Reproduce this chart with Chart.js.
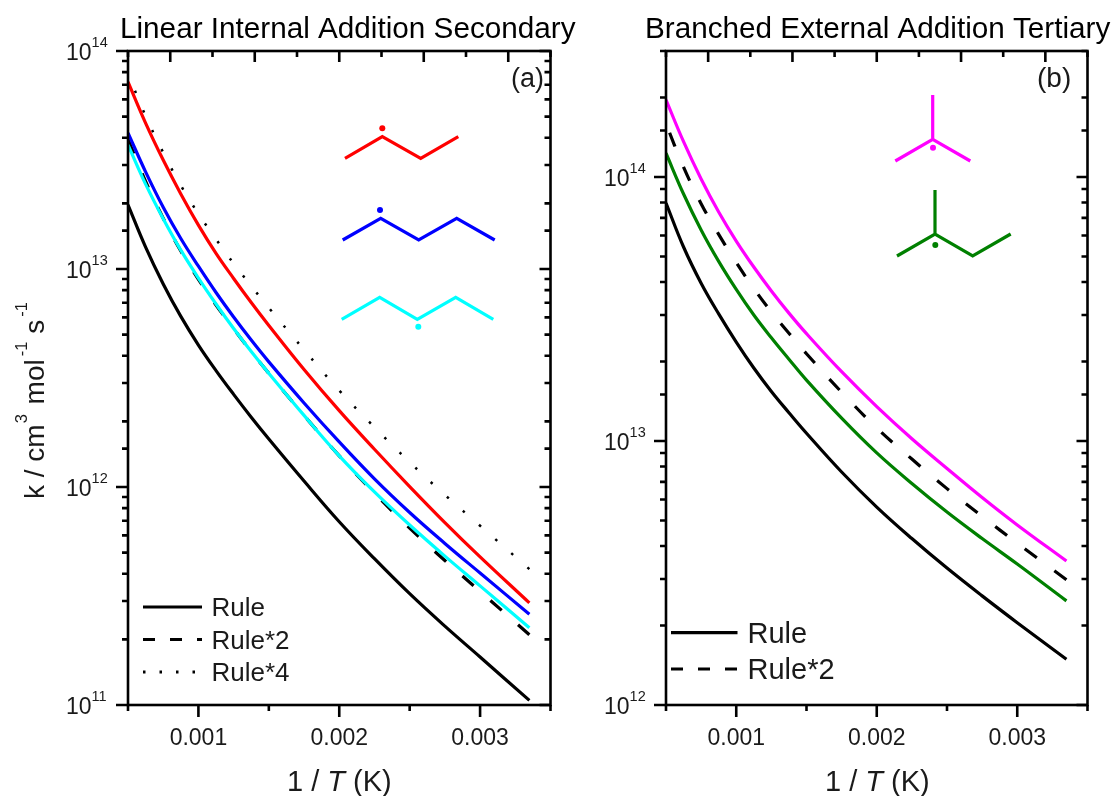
<!DOCTYPE html>
<html>
<head>
<meta charset="utf-8">
<title>Addition rate rules</title>
<script src="https://cdn.jsdelivr.net/npm/chart.js@4/dist/chart.umd.js"></script>
<style>
  html, body { margin: 0; background: #fff; }
  canvas { position: absolute; left: 0; top: 0; }
</style>
</head>
<body>
<canvas id="panelA" width="1116" height="796"></canvas>
<canvas id="panelB" width="1116" height="796"></canvas>
<script>
// 1/T values the curves were read at
const invT = [0.0005, 0.000625, 0.00075, 0.000875, 0.001, 0.001125, 0.00125, 0.001375, 0.0015, 0.00175, 0.002, 0.00225, 0.0025, 0.00275, 0.003, 0.00335];

// panel (a)
const ruleA = [1.97e13, 1.26e13, 8.54e12, 6.06e12, 4.48e12, 3.42e12, 2.66e12, 2.09e12, 1.66e12, 1.065e12, 6.93e11, 4.69e11, 3.24e11, 2.30e11, 1.66e11, 1.05e11];
const rule2A = [3.94e13, 2.52e13, 1.71e13, 1.21e13, 8.96e12, 6.84e12, 5.32e12, 4.18e12, 3.32e12, 2.13e12, 1.39e12, 9.38e11, 6.48e11, 4.60e11, 3.32e11, 2.10e11];
const rule4A = [7.88e13, 5.04e13, 3.42e13, 2.42e13, 1.79e13, 1.37e13, 1.06e13, 8.36e12, 6.64e12, 4.26e12, 2.77e12, 1.88e12, 1.30e12, 9.20e11, 6.64e11, 4.20e11];
const redA = [7.21e13, 4.67e13, 3.16e13, 2.21e13, 1.59e13, 1.18e13, 9.05e12, 7.02e12, 5.51e12, 3.46e12, 2.24e12, 1.49e12, 1.005e12, 6.87e11, 4.78e11, 2.94e11];
const blueA = [4.21e13, 2.79e13, 1.92e13, 1.38e13, 1.03e13, 7.80e12, 6.02e12, 4.72e12, 3.75e12, 2.43e12, 1.61e12, 1.09e12, 7.64e11, 5.51e11, 4.03e11, 2.61e11];
const cyanA = [3.71e13, 2.45e13, 1.70e13, 1.22e13, 9.09e12, 6.91e12, 5.33e12, 4.18e12, 3.32e12, 2.13e12, 1.39e12, 9.49e11, 6.69e11, 4.82e11, 3.52e11, 2.26e11];

// panel (b)
const ruleB = [7.97e13, 5.43e13, 3.96e13, 3.03e13, 2.37e13, 1.89e13, 1.54e13, 1.28e13, 1.07e13, 7.63e12, 5.62e12, 4.27e12, 3.30e12, 2.59e12, 2.05e12, 1.49e12];
const rule2B = [1.59e14, 1.09e14, 7.92e13, 6.06e13, 4.74e13, 3.78e13, 3.08e13, 2.56e13, 2.14e13, 1.53e13, 1.12e13, 8.54e12, 6.60e12, 5.18e12, 4.10e12, 2.98e12];
const magentaB = [1.96e14, 1.36e14, 9.83e13, 7.37e13, 5.72e13, 4.56e13, 3.70e13, 3.05e13, 2.55e13, 1.83e13, 1.35e13, 1.02e13, 7.87e12, 6.11e12, 4.81e12, 3.51e12];
const greenB = [1.23e14, 8.62e13, 6.30e13, 4.79e13, 3.75e13, 3.00e13, 2.46e13, 2.04e13, 1.70e13, 1.22e13, 9.01e12, 6.90e12, 5.38e12, 4.27e12, 3.42e12, 2.48e12];

const xLabels = ["0.001", "0.002", "0.003"];
const legendA = ["Rule", "Rule*2", "Rule*4"];
const legendB = ["Rule", "Rule*2"];

const FONT = '"Liberation Sans", Arial, sans-serif';
const DASHED = [15, 22];
const DOTTED = [2.5, 19];

// drawn from the 298 K end so the dash pattern starts there, like the original
function series(values, color, dash, width) {
  const pts = invT.map((x, i) => ({ x, y: values[i] })).reverse();
  return {
    data: pts,
    borderColor: color,
    borderWidth: width,
    borderDash: dash || [],
    pointRadius: 0,
    tension: 0.4,
    fill: false,
  };
}

// mixed-size / italic text, left to right from x
function drawRuns(ctx, x, y, runs) {
  for (const r of runs) {
    x += r.dx || 0;
    ctx.font = `${r.it ? "italic " : ""}${r.size}px ${FONT}`;
    ctx.fillText(r.t, x, y + (r.dy || 0));
    x += ctx.measureText(r.t).width;
  }
}

// frame, mirrored ticks, y labels and all the annotation text
const panelDecor = {
  id: "panelDecor",
  afterDraw(chart, args, opts) {
    const ctx = chart.ctx;
    const { left, right, top, bottom } = chart.chartArea;
    const { x, x2, y } = chart.scales;
    ctx.save();
    ctx.strokeStyle = "#000";
    ctx.fillStyle = "#1a1a1a";
    ctx.textBaseline = "alphabetic";
    ctx.lineWidth = 2.6;
    ctx.strokeRect(left, top, right - left, bottom - top);

    ctx.lineWidth = 2.6;
    ctx.beginPath();
    x.ticks.forEach((t) => {
      const px = x.getPixelForValue(t.value);
      ctx.moveTo(px, bottom);
      ctx.lineTo(px, bottom + (t.label ? 12 : 6));
    });
    x2.ticks.forEach((t, i) => {
      const px = x2.getPixelForValue(t.value);
      ctx.moveTo(px, top);
      ctx.lineTo(px, top + (i % 2 ? 11 : 6));
    });
    y.ticks.forEach((t) => {
      const py = y.getPixelForValue(t.value);
      const exp = Math.log10(t.value);
      const major = Math.abs(exp - Math.round(exp)) < 1e-6;
      ctx.moveTo(left, py);
      ctx.lineTo(left - (major ? 12 : 6), py);
      ctx.moveTo(right, py);
      ctx.lineTo(right - (major ? 11 : 6), py);
    });
    ctx.stroke();

    y.ticks.forEach((t) => {
      const exp = Math.log10(t.value);
      if (Math.abs(exp - Math.round(exp)) > 1e-6) return;
      const py = y.getPixelForValue(t.value);
      drawRuns(ctx, left - 62, py + 9, [
        { t: "10", size: 23 },
        { t: String(Math.round(exp)), size: 14.5, dy: -13 },
      ]);
    });

    // title, panel letter, x title
    ctx.fillStyle = "#000";
    ctx.font = `29.7px ${FONT}`;
    ctx.fillText(opts.title, opts.titleX, 37.5);
    ctx.fillStyle = "#1a1a1a";
    ctx.font = `${opts.letterSize}px ${FONT}`;
    ctx.fillText(opts.letter, opts.letterX, 87);
    drawRuns(ctx, opts.xTitleX, 791, [
      { t: "1 / ", size: 29 },
      { t: "T", size: 29, it: true },
      { t: " (K)", size: 29 },
    ]);

    // legend
    const lg = opts.legend;
    lg.names.forEach((name, i) => {
      ctx.beginPath();
      ctx.lineWidth = 3.2;
      ctx.strokeStyle = "#000";
      ctx.setLineDash(lg.dashes[i]);
      ctx.moveTo(lg.x0, lg.rows[i]);
      ctx.lineTo(lg.x1, lg.rows[i]);
      ctx.stroke();
      ctx.setLineDash([]);
      ctx.font = `${lg.size}px ${FONT}`;
      ctx.fillText(name, lg.textX, lg.rows[i] + lg.size * 0.35);
    });

    // molecule sketches
    opts.molecules.forEach((m) => {
      ctx.strokeStyle = m.color;
      ctx.fillStyle = m.color;
      ctx.lineWidth = 3.2;
      ctx.lineJoin = "miter";
      ctx.beginPath();
      m.paths.forEach((p) => {
        p.forEach((q, i) => (i ? ctx.lineTo(q[0], q[1]) : ctx.moveTo(q[0], q[1])));
      });
      ctx.stroke();
      ctx.beginPath();
      ctx.arc(m.dot[0], m.dot[1], 3, 0, Math.PI * 2);
      ctx.fill();
    });

    // y title only on the left panel
    if (opts.yTitle) {
      ctx.fillStyle = "#1a1a1a";
      ctx.translate(44, 499);
      ctx.rotate(-Math.PI / 2);
      drawRuns(ctx, 0, 0, [
        { t: "k / cm", size: 28 },
        { t: "3", size: 16.5, dy: -17, dx: 1 },
        { t: " mol", size: 28, dx: 2 },
        { t: "-1", size: 16.5, dy: -17, dx: 3 },
        { t: " s", size: 28 },
        { t: "-1", size: 16.5, dy: -17, dx: 3 },
      ]);
    }
    ctx.restore();
  },
};

function makePanel(id, cfg) {
  return new Chart(document.getElementById(id), {
    type: "line",
    data: { datasets: cfg.datasets },
    plugins: [panelDecor],
    options: {
      responsive: false,
      animation: false,
      layout: { padding: cfg.padding },
      plugins: {
        legend: { display: false },
        tooltip: { enabled: false },
        panelDecor: cfg.decor,
      },
      scales: {
        x: {
          type: "linear",
          min: 0.0005,
          max: 0.0035,
          // labels are clipped to the scale box, so it needs real height
          afterFit: (s) => { s.height = 60; },
          grid: { display: false, drawTicks: false },
          border: { display: false },
          ticks: {
            stepSize: 0.0005,
            autoSkip: false,
            maxRotation: 0,
            padding: 20,
            color: "#1a1a1a",
            font: { family: FONT, size: 23 },
            callback: (v) => {
              const s = Number(v).toFixed(3);
              return xLabels.includes(s) && Math.abs(Number(s) - v) < 1e-7 ? s : "";
            },
          },
        },
        // the top axis of the original has its own tick spacing
        x2: {
          type: "linear",
          position: "top",
          min: 0.0005,
          max: 0.0035,
          afterFit: (s) => { s.height = 0; },
          grid: { display: false, drawTicks: false },
          border: { display: false },
          ticks: { display: false, stepSize: 0.0003, autoSkip: false },
        },
        y: {
          type: "logarithmic",
          min: cfg.yMin,
          max: cfg.yMax,
          afterFit: (s) => { s.width = 0; },
          grid: { display: false, drawTicks: false },
          border: { display: false },
          ticks: { display: false, autoSkip: false },
        },
      },
    },
  });
}

// first dataset ends up on top
makePanel("panelA", {
  yMin: 1e11,
  yMax: 1e14,
  padding: { left: 128, right: 1116 - 550.5, top: 51, bottom: 796 - 705 - 60 },
  datasets: [
    series(cyanA, "#00ffff", null, 3.2),
    series(blueA, "#0000ff", null, 3.2),
    series(redA, "#ff0000", null, 3.2),
    series(rule4A, "#000000", DOTTED, 2.5),
    series(rule2A, "#000000", DASHED, 3.2),
    series(ruleA, "#000000", null, 3.2),
  ],
  decor: {
    title: "Linear Internal Addition Secondary",
    titleX: 120,
    letter: "(a)",
    letterX: 511,
    letterSize: 27,
    xTitleX: 287,
    yTitle: true,
    legend: {
      names: legendA,
      dashes: [[], [12, 15], [2.5, 14]],
      x0: 143, x1: 202,
      rows: [607, 639.5, 672],
      textX: 211.5,
      size: 26,
    },
    molecules: [
      { color: "#ff0000", dot: [382.3, 128.3],
        paths: [[[345, 158.3], [382.3, 136.7], [420.7, 158.3], [458.3, 136.7]]] },
      { color: "#0000ff", dot: [380, 210],
        paths: [[[342.7, 240], [380.7, 218.3], [418.7, 240], [456.7, 218.3], [494.7, 240]]] },
      { color: "#00ffff", dot: [418.3, 326.7],
        paths: [[[341.7, 319.3], [379.7, 297.3], [417.3, 319.3], [455.7, 297.3], [493.3, 319.3]]] },
    ],
  },
});

makePanel("panelB", {
  yMin: 1e12,
  yMax: 3e14,
  padding: { left: 666, right: 1116 - 1087.5, top: 51, bottom: 796 - 705 - 60 },
  datasets: [
    series(magentaB, "#ff00ff", null, 3.2),
    series(rule2B, "#000000", DASHED, 3.2),
    series(greenB, "#008000", null, 3.2),
    series(ruleB, "#000000", null, 3.2),
  ],
  decor: {
    title: "Branched External Addition Tertiary",
    titleX: 645,
    letter: "(b)",
    letterX: 1037,
    letterSize: 28,
    xTitleX: 825,
    yTitle: false,
    legend: {
      names: legendB,
      dashes: [[], [12, 15]],
      x0: 671, x1: 737.5,
      rows: [632.7, 669],
      textX: 747.5,
      size: 29,
    },
    molecules: [
      { color: "#ff00ff", dot: [933, 147.7],
        paths: [[[932.7, 95], [932.7, 139.3]], [[895.3, 161], [932.7, 139.3], [970.3, 161]]] },
      { color: "#008000", dot: [935.3, 245],
        paths: [[[935, 190], [935, 234]], [[897, 256], [935, 234], [972.7, 256], [1010.7, 234]]] },
    ],
  },
});
</script>
</body>
</html>
